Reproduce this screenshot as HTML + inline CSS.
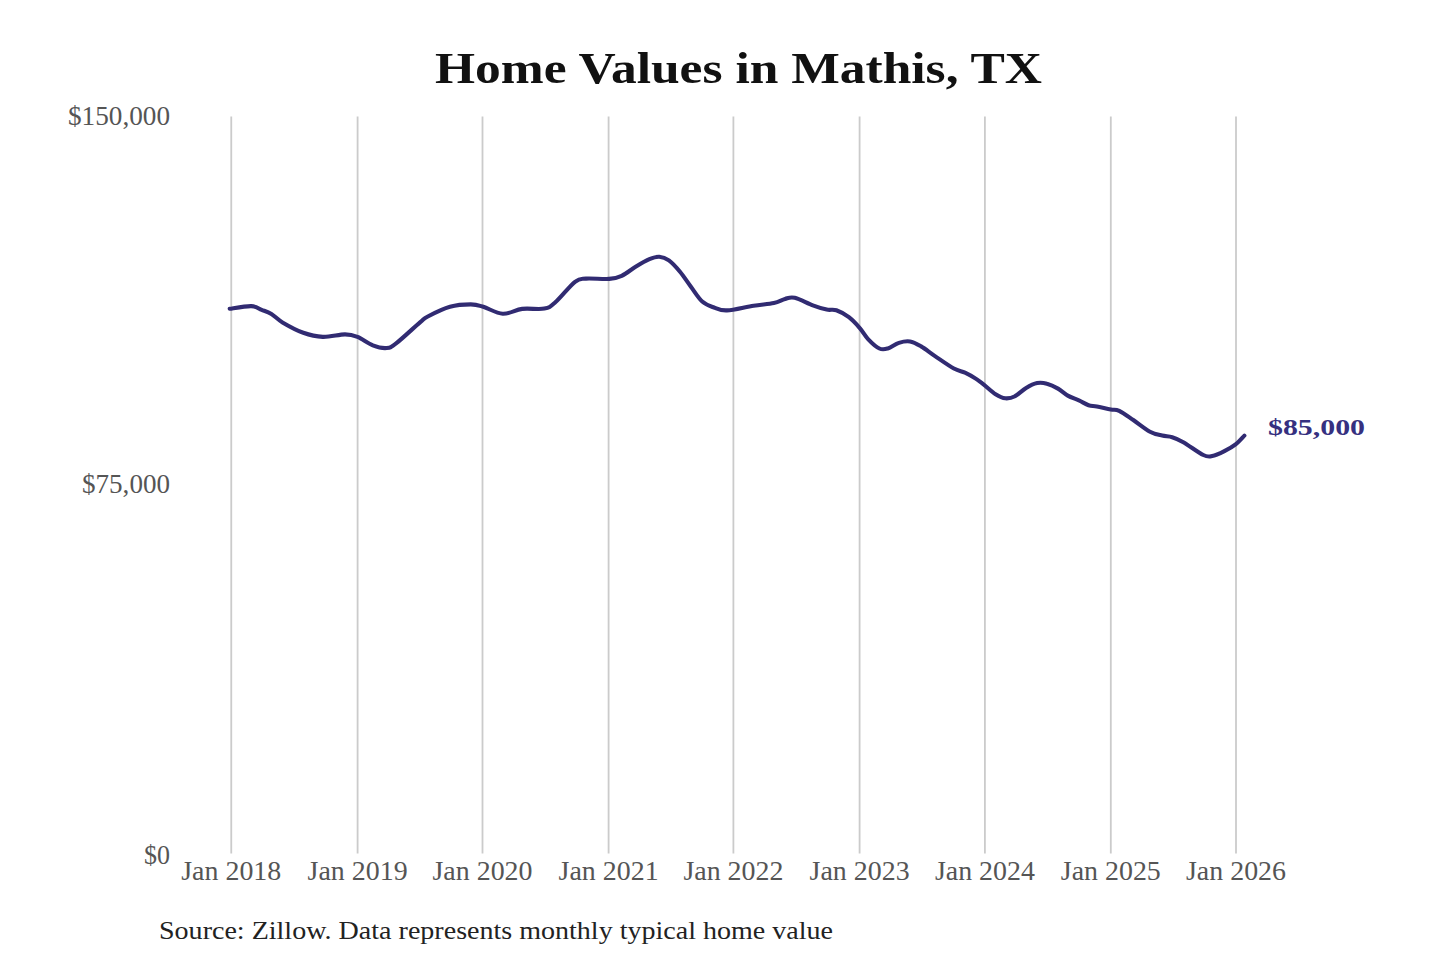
<!DOCTYPE html>
<html><head><meta charset="utf-8"><style>
html,body{margin:0;padding:0;background:#fff;width:1440px;height:960px;overflow:hidden}
svg{display:block}
text{font-family:"Liberation Serif",serif}
</style></head><body>
<svg width="1440" height="960" viewBox="0 0 1440 960">
<rect width="1440" height="960" fill="#fff"/>
<text x="738.5" y="83" text-anchor="middle" font-weight="bold" font-size="45" fill="#111" textLength="607" lengthAdjust="spacingAndGlyphs">Home Values in Mathis, TX</text>
<g stroke="#cbcbcb" stroke-width="1.8">
<line x1="231.25" y1="116.5" x2="231.25" y2="853.5" />
<line x1="357.60" y1="116.5" x2="357.60" y2="853.5" />
<line x1="482.50" y1="116.5" x2="482.50" y2="853.5" />
<line x1="608.60" y1="116.5" x2="608.60" y2="853.5" />
<line x1="733.40" y1="116.5" x2="733.40" y2="853.5" />
<line x1="859.60" y1="116.5" x2="859.60" y2="853.5" />
<line x1="984.90" y1="116.5" x2="984.90" y2="853.5" />
<line x1="1110.80" y1="116.5" x2="1110.80" y2="853.5" />
<line x1="1236.00" y1="116.5" x2="1236.00" y2="853.5" />
</g>
<g font-size="27" fill="#555">
<text x="170" y="125" text-anchor="end" textLength="102" lengthAdjust="spacingAndGlyphs">$150,000</text>
<text x="170" y="493" text-anchor="end" textLength="88" lengthAdjust="spacingAndGlyphs">$75,000</text>
<text x="170" y="864" text-anchor="end" textLength="26" lengthAdjust="spacingAndGlyphs">$0</text>
<text x="231.25" y="880" font-size="27.5" text-anchor="middle" textLength="100" lengthAdjust="spacingAndGlyphs">Jan 2018</text>
<text x="357.60" y="880" font-size="27.5" text-anchor="middle" textLength="100" lengthAdjust="spacingAndGlyphs">Jan 2019</text>
<text x="482.50" y="880" font-size="27.5" text-anchor="middle" textLength="100" lengthAdjust="spacingAndGlyphs">Jan 2020</text>
<text x="608.60" y="880" font-size="27.5" text-anchor="middle" textLength="100" lengthAdjust="spacingAndGlyphs">Jan 2021</text>
<text x="733.40" y="880" font-size="27.5" text-anchor="middle" textLength="100" lengthAdjust="spacingAndGlyphs">Jan 2022</text>
<text x="859.60" y="880" font-size="27.5" text-anchor="middle" textLength="100" lengthAdjust="spacingAndGlyphs">Jan 2023</text>
<text x="984.90" y="880" font-size="27.5" text-anchor="middle" textLength="100" lengthAdjust="spacingAndGlyphs">Jan 2024</text>
<text x="1110.80" y="880" font-size="27.5" text-anchor="middle" textLength="100" lengthAdjust="spacingAndGlyphs">Jan 2025</text>
<text x="1236.00" y="880" font-size="27.5" text-anchor="middle" textLength="100" lengthAdjust="spacingAndGlyphs">Jan 2026</text>
</g>
<path d="M229.7,308.8 C233.3,308.3 245.9,305.9 251.2,306.1 C256.6,306.3 258.3,308.6 261.7,309.9 C265.1,311.2 267.9,311.9 271.4,314.0 C274.9,316.1 277.2,319.3 282.5,322.4 C287.8,325.5 296.6,330.4 303.3,332.8 C310.0,335.2 315.9,336.6 322.8,336.9 C329.8,337.2 339.2,334.4 345.0,334.4 C350.8,334.4 352.9,335.1 357.5,336.9 C362.1,338.7 367.9,343.4 372.8,345.3 C377.7,347.2 382.8,348.4 386.7,348.0 C390.6,347.6 390.8,347.5 396.4,343.2 C401.9,338.9 414.8,326.8 420.0,322.4 C425.2,317.9 422.8,319.1 427.8,316.5 C432.8,313.9 442.8,308.8 450.0,306.8 C457.2,304.8 465.2,304.4 470.8,304.4 C476.4,304.4 478.0,305.2 483.3,306.8 C488.6,308.4 496.3,313.4 502.8,313.8 C509.3,314.1 515.3,309.8 522.2,308.9 C529.1,308.0 538.8,309.8 544.4,308.6 C550.0,307.5 550.5,306.5 555.6,302.0 C560.7,297.5 569.9,285.7 575.0,281.8 C580.1,277.9 580.3,279.1 586.0,278.6 C591.7,278.1 603.2,279.4 609.2,278.9 C615.2,278.4 617.3,277.8 621.7,275.8 C626.1,273.8 631.0,269.6 635.6,266.8 C640.2,264.0 645.5,260.9 649.4,259.2 C653.3,257.5 656.0,256.5 659.2,256.7 C662.5,256.9 665.4,257.8 668.9,260.3 C672.4,262.8 676.3,267.2 680.0,271.7 C683.7,276.1 687.4,282.0 691.1,287.0 C694.8,292.0 698.4,298.1 702.2,301.5 C706.0,304.9 709.9,306.0 714.0,307.5 C718.1,309.0 720.4,310.7 727.0,310.4 C733.6,310.1 745.8,306.9 753.6,305.7 C761.4,304.5 768.7,304.1 773.9,303.0 C779.1,301.9 781.5,299.8 785.0,298.9 C788.5,298.0 790.1,296.7 794.7,297.8 C799.3,298.9 807.5,303.4 812.8,305.4 C818.1,307.4 822.8,308.8 826.7,309.6 C830.6,310.4 832.7,309.0 836.4,310.3 C840.1,311.6 845.0,314.2 848.9,317.2 C852.8,320.2 856.8,324.6 860.0,328.3 C863.2,332.0 865.1,336.0 868.3,339.4 C871.5,342.8 876.1,347.0 879.4,348.5 C882.6,350.0 884.5,349.4 887.8,348.5 C891.0,347.6 895.2,344.1 898.9,342.9 C902.6,341.7 906.3,340.9 910.0,341.5 C913.7,342.1 916.9,344.0 921.1,346.4 C925.3,348.8 929.5,352.4 935.0,356.1 C940.5,359.8 948.9,365.8 953.9,368.5 C958.9,371.2 961.3,370.9 965.0,372.6 C968.7,374.3 972.9,376.8 976.1,378.9 C979.3,381.0 981.1,382.6 984.4,385.1 C987.6,387.7 992.1,392.0 995.6,394.2 C999.1,396.4 1002.1,398.0 1005.3,398.3 C1008.5,398.6 1011.5,398.0 1015.0,396.2 C1018.5,394.5 1022.4,390.1 1026.1,387.9 C1029.8,385.7 1033.7,383.8 1037.2,383.1 C1040.7,382.4 1043.4,382.8 1046.9,383.8 C1050.4,384.7 1054.5,386.6 1058.0,388.6 C1061.5,390.6 1064.3,393.6 1067.8,395.6 C1071.3,397.6 1075.4,398.8 1078.9,400.4 C1082.4,402.0 1085.6,404.3 1088.6,405.3 C1091.6,406.3 1093.2,405.7 1096.9,406.4 C1100.6,407.1 1107.1,408.7 1110.8,409.4 C1114.5,410.1 1115.5,409.0 1119.2,410.8 C1123.0,412.6 1128.2,416.5 1133.3,420.0 C1138.4,423.5 1145.2,429.1 1150.0,431.7 C1154.8,434.3 1158.5,434.7 1162.2,435.6 C1165.9,436.5 1168.7,436.1 1172.2,437.2 C1175.7,438.3 1178.1,439.2 1183.3,442.2 C1188.5,445.2 1198.5,452.7 1203.3,455.0 C1208.1,457.3 1208.7,456.8 1212.2,456.1 C1215.7,455.5 1220.5,453.1 1224.4,451.1 C1228.3,449.2 1232.3,447.0 1235.6,444.4 C1238.9,441.8 1242.9,437.1 1244.4,435.6" fill="none" stroke="#312b72" stroke-width="4.1" stroke-linecap="round" stroke-linejoin="round"/>
<text x="1268" y="434.5" font-weight="bold" font-size="24" fill="#363080" textLength="97" lengthAdjust="spacingAndGlyphs">$85,000</text>
<text x="159" y="939" font-size="26" fill="#222" textLength="674" lengthAdjust="spacingAndGlyphs">Source: Zillow. Data represents monthly typical home value</text>
</svg>
</body></html>
